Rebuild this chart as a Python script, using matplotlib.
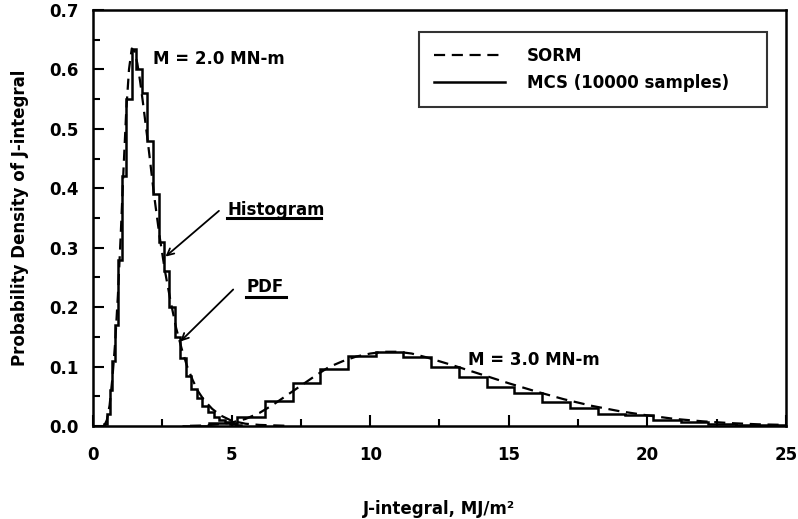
import matplotlib
matplotlib.use("Agg")
import matplotlib.pyplot as plt
from matplotlib.ticker import MultipleLocator

plt.rcParams['font.family'] = ['DejaVu Sans']
plt.rcParams['font.weight'] = 'bold'
plt.rcParams['font.size'] = 12

# ---- MCS histogram, M = 2.0 MN-m ----
hist2_edges = [0.40, 0.50, 0.60, 0.70, 0.80, 0.90, 1.05, 1.20, 1.40, 1.55, 1.78,
               1.94, 2.18, 2.38, 2.55, 2.75, 2.95, 3.15, 3.35, 3.55, 3.75, 3.95,
               4.15, 4.35, 4.55, 4.75, 4.95, 5.15, 5.35]
hist2_vals = [0.004, 0.02, 0.06, 0.11, 0.17, 0.28, 0.42, 0.55, 0.635, 0.60, 0.56,
              0.48, 0.39, 0.31, 0.26, 0.20, 0.15, 0.115, 0.085, 0.062, 0.047,
              0.034, 0.024, 0.016, 0.011, 0.007, 0.004, 0.002]

# ---- SORM PDF, M = 2.0 MN-m ----
pdf2_x = [0.4, 0.5, 0.6, 0.7, 0.8, 0.9, 1.0, 1.1, 1.2, 1.3, 1.4, 1.5, 1.6, 1.7,
          1.8, 2.0, 2.2, 2.4, 2.6, 2.8, 3.0, 3.2, 3.4, 3.6, 3.8, 4.0, 4.3, 4.6,
          5.0, 5.5, 6.0, 7.0]
pdf2_y = [0.0, 0.01, 0.035, 0.08, 0.14, 0.22, 0.32, 0.43, 0.53, 0.60, 0.635,
          0.63, 0.61, 0.58, 0.545, 0.47, 0.39, 0.32, 0.26, 0.21, 0.165, 0.13,
          0.10, 0.077, 0.058, 0.044, 0.029, 0.018, 0.009, 0.004, 0.002, 0.0005]

# ---- MCS histogram, M = 3.0 MN-m ----
hist3_edges = [3.2, 4.2, 5.2, 6.2, 7.2, 8.2, 9.2, 10.2, 11.2, 12.2, 13.2, 14.2,
               15.2, 16.2, 17.2, 18.2, 19.2, 20.2, 21.2, 22.2, 23.2, 24.2, 25.0]
hist3_vals = [0.001, 0.005, 0.015, 0.043, 0.072, 0.096, 0.118, 0.125, 0.117,
              0.100, 0.083, 0.066, 0.055, 0.041, 0.030, 0.021, 0.018, 0.011,
              0.007, 0.004, 0.002, 0.002]

# ---- SORM PDF, M = 3.0 MN-m ----
pdf3_x = [3.5, 4.0, 4.5, 5.0, 5.5, 6.0, 6.5, 7.0, 7.5, 8.0, 8.5, 9.0, 9.5, 10.0,
          10.5, 11.0, 11.5, 12.0, 13.0, 14.0, 15.0, 16.0, 17.0, 18.0, 19.0,
          20.0, 21.0, 22.0, 23.0, 24.0, 25.0]
pdf3_y = [0.0005, 0.001, 0.003, 0.006, 0.012, 0.022, 0.036, 0.052, 0.068, 0.084,
          0.099, 0.109, 0.117, 0.122, 0.125, 0.125, 0.122, 0.116, 0.102, 0.087,
          0.072, 0.058, 0.045, 0.034, 0.025, 0.018, 0.012, 0.008, 0.005, 0.003,
          0.002]

x_ticks = [0, 5, 10, 15, 20, 25]
y_ticks = [0.0, 0.1, 0.2, 0.3, 0.4, 0.5, 0.6, 0.7]

fig = plt.figure(figsize=(7.98, 5.19), dpi=100)
ax = fig.add_axes([0.1165, 0.179, 0.8685, 0.802])

dash = (0, (5, 3))
ax.plot(pdf2_x, pdf2_y, color='black', lw=1.6, linestyle=dash, label='SORM')
ax.plot(pdf3_x, pdf3_y, color='black', lw=1.6, linestyle=dash)
ax.stairs(hist2_vals, hist2_edges, color='black', lw=1.8,
          label='MCS (10000 samples)')
ax.stairs(hist3_vals, hist3_edges, color='black', lw=1.8)

ax.set_xlim(0, 25)
ax.set_ylim(0, 0.7)
ax.set_xticks(x_ticks)
ax.set_yticks(y_ticks)
ax.set_xticklabels([str(t) for t in x_ticks])
ax.set_yticklabels([f"{t:.1f}" for t in y_ticks])
ax.xaxis.set_minor_locator(MultipleLocator(2.5))
ax.yaxis.set_minor_locator(MultipleLocator(0.05))
ax.tick_params(axis='both', which='both', direction='in', top=False, right=False,
               width=1.5, color='black')
ax.tick_params(axis='both', which='major', length=8)
ax.tick_params(axis='both', which='minor', length=5)
ax.tick_params(axis='x', which='major', pad=14)
ax.tick_params(axis='y', which='major', pad=10)
for s in ax.spines.values():
    s.set_linewidth(1.8)

ax.set_xlabel('J-integral, MJ/m²', fontweight='bold')
ax.set_ylabel('Probability Density of J-integral', fontweight='bold')
ax.xaxis.set_label_coords(0.5, -0.178)
ax.yaxis.set_label_coords(-0.093, 0.5)

ax.text(2.17, 0.617, 'M = 2.0 MN-m', ha='left', va='center')
ax.text(13.54, 0.111, 'M = 3.0 MN-m', ha='left', va='center')

# annotations with underlined labels
ax.annotate('', xy=(2.54, 0.282), xytext=(4.62, 0.365),
            arrowprops=dict(arrowstyle='->', color='black', lw=1.3))
ax.text(4.86, 0.364, 'Histogram', ha='left', va='center')
ax.plot([4.84, 8.23], [0.350, 0.350], color='black', lw=2.2)
ax.annotate('', xy=(3.08, 0.139), xytext=(5.13, 0.233),
            arrowprops=dict(arrowstyle='->', color='black', lw=1.3))
ax.text(5.55, 0.2345, 'PDF', ha='left', va='center')
ax.plot([5.52, 6.97], [0.2167, 0.2167], color='black', lw=2.2)

leg = ax.legend(loc='upper left', bbox_to_anchor=(0.470, 0.948, 0.503, 0.0),
                mode='expand', frameon=True, fancybox=False, edgecolor='black',
                handlelength=4.3, handletextpad=1.3, borderpad=0.9,
                labelspacing=0.55, borderaxespad=0.0)
leg.get_frame().set_linewidth(1.5)

fig.savefig('out.png', dpi=100)
